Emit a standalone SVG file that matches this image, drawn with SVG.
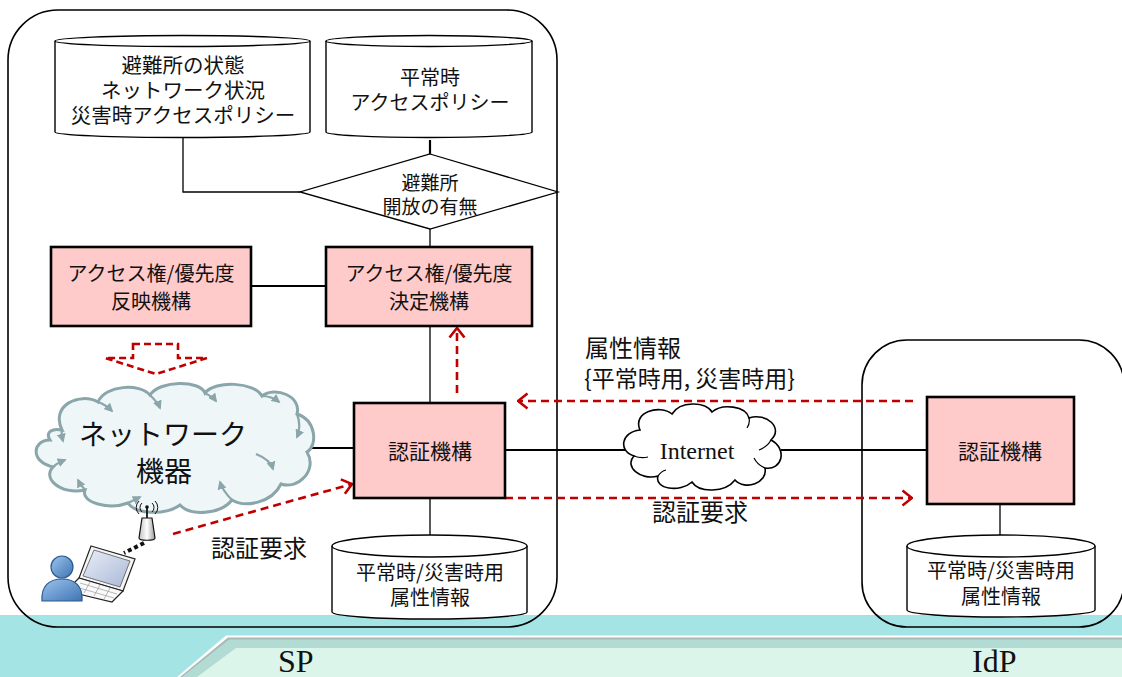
<svg xmlns="http://www.w3.org/2000/svg" width="1122" height="677" viewBox="0 0 1122 677">
  <style>
    .jp { font-family: "Noto Sans CJK JP", "Noto Sans", sans-serif; fill: #111; text-anchor: middle; }
    .serif { font-family: "Liberation Serif", "Times New Roman", serif; fill: #111; }
    .panel { fill: none; stroke: #000; stroke-width: 1.6; }
    .cyl { fill: #fff; stroke: #000; stroke-width: 1.4; }
    .box { fill: #ffcaca; stroke: #000; stroke-width: 2.6; }
    .line { fill: none; stroke: #000; stroke-width: 1.3; }
    .line2 { fill: none; stroke: #000; stroke-width: 2.2; }
    .red { fill: none; stroke: #c00000; stroke-width: 2.6; stroke-dasharray: 8 5; }
    .ripple { fill: none; stroke: #8aa6aa; stroke-width: 2.2; }
  </style>
  <defs>
    <marker id="redHead" viewBox="0 0 12 18" refX="11" refY="9" markerWidth="12" markerHeight="18" markerUnits="userSpaceOnUse" orient="auto">
      <path d="M1.5,1.5 L11,9 L1.5,16.5" fill="none" stroke="#c00000" stroke-width="2.6" stroke-dasharray="none"/>
    </marker>
    <marker id="rippleHead" viewBox="0 0 10 10" refX="8" refY="5" markerWidth="9" markerHeight="9" markerUnits="userSpaceOnUse" orient="auto">
      <path d="M0,0 L10,5 L0,10 Z" fill="#8aa6aa"/>
    </marker>
    <linearGradient id="userGrad" x1="0" y1="0" x2="1" y2="1">
      <stop offset="0" stop-color="#9cc3ee"/>
      <stop offset="1" stop-color="#3f74b3"/>
    </linearGradient>
    <linearGradient id="screenGrad" x1="0" y1="0" x2="1" y2="1">
      <stop offset="0" stop-color="#e9eef8"/>
      <stop offset="1" stop-color="#aab8d6"/>
    </linearGradient>
    <linearGradient id="antGrad" x1="0" y1="0" x2="1" y2="0">
      <stop offset="0" stop-color="#bfbfbf"/>
      <stop offset="0.5" stop-color="#ffffff"/>
      <stop offset="1" stop-color="#9a9a9a"/>
    </linearGradient>
  </defs>

  <!-- footer band -->
  <g id="footer">
    <rect x="0" y="615" width="1122" height="62" fill="#a4e4e4"/>
    <polygon points="177,677 226,635.5 1122,635.5 1122,677" fill="#ffffff"/>
    <polygon points="180,677 228,637.5 1122,637.5 1122,677" fill="#a9b9b6"/>
    <polygon points="182,677 229,639.5 1122,639.5 1122,677" fill="#b2dcd3"/>
    <polygon points="197,677 236,648 1122,648 1122,677" fill="#dcf5ea"/>
    <text class="serif" x="278" y="672" font-size="32">SP</text>
    <text class="serif" x="972" y="672" font-size="32">IdP</text>
  </g>

  <!-- domain panels -->
  <g id="sp-panel">
    <rect class="panel" x="8" y="10" width="549" height="617" rx="50" ry="50"/>
  </g>
  <g id="idp-panel">
    <rect class="panel" x="862" y="340" width="262" height="287" rx="45" ry="45"/>
  </g>

  <!-- connectors -->
  <g id="connectors">
    <polyline class="line" points="183,137 183,192 300,192"/>
    <line class="line2" x1="430" y1="140" x2="430" y2="154"/>
    <line class="line" x1="430" y1="229" x2="430" y2="247"/>
    <line class="line2" x1="251" y1="286" x2="326" y2="286"/>
    <line class="line" x1="430" y1="326" x2="430" y2="403"/>
    <line class="line" x1="430" y1="498" x2="430" y2="535"/>
    <line class="line2" x1="310" y1="448" x2="354" y2="448"/>
    <line class="line2" x1="505" y1="450" x2="625" y2="450"/>
    <line class="line2" x1="781" y1="450" x2="927" y2="450"/>
    <line class="line" x1="1000" y1="504" x2="1000" y2="535"/>

    <!-- attribute flow IdP -> SP -->
    <line class="red" x1="913" y1="401" x2="518" y2="401" marker-end="url(#redHead)"/>
    <!-- authentication request SP -> IdP -->
    <line class="red" x1="505" y1="498" x2="912" y2="498" marker-end="url(#redHead)"/>
    <!-- authentication result -> decision -->
    <line class="red" x1="457" y1="393" x2="457" y2="328" marker-end="url(#redHead)"/>
    <!-- user request -> SP authentication -->
    <line class="red" x1="173" y1="534" x2="352" y2="484" marker-end="url(#redHead)"/>
    <!-- policy reflection onto network devices -->
    <polygon points="133,344 178,344 178,358 207,358 156,374 105,358 133,358" fill="none" stroke="#c00000" stroke-width="2.6" stroke-dasharray="7 4"/>
  </g>

  <!-- labels on flows -->
  <g id="flow-labels">
    <text class="jp" x="585" y="357" font-size="24" style="text-anchor:start">属性情報</text>
    <text class="jp" x="584" y="387" font-size="23" style="text-anchor:start">{平常時用, 災害時用}</text>
    <text class="jp" x="700" y="521" font-size="24">認証要求</text>
    <text class="jp" x="259" y="557" font-size="24">認証要求</text>
  </g>

  <!-- data store: shelter state -->
  <g id="db-shelter">
    <path class="cyl" d="M55,41 L55,132 A127.5,5.5 0 0 0 310,132 L310,41 A127.5,5.5 0 0 0 55,41 Z"/>
    <path class="cyl" d="M55,41 A127.5,5.5 0 0 0 310,41"/>
    <text class="jp" x="183" y="73" font-size="20.5">避難所の状態</text>
    <text class="jp" x="183" y="98" font-size="20.5">ネットワーク状況</text>
    <text class="jp" x="183" y="123" font-size="20.5">災害時アクセスポリシー</text>
  </g>

  <!-- data store: normal policy -->
  <g id="db-normal">
    <path class="cyl" d="M326,41 L326,132 A103,5.5 0 0 0 532,132 L532,41 A103,5.5 0 0 0 326,41 Z"/>
    <path class="cyl" d="M326,41 A103,5.5 0 0 0 532,41"/>
    <text class="jp" x="430" y="85" font-size="20">平常時</text>
    <text class="jp" x="430" y="110" font-size="20">アクセスポリシー</text>
  </g>

  <!-- decision -->
  <g id="decision">
    <polygon points="430,154 558,192 430,229 300,192" fill="#fff" stroke="#000" stroke-width="1.3"/>
    <text class="jp" x="430" y="190" font-size="19">避難所</text>
    <text class="jp" x="430" y="214" font-size="19">開放の有無</text>
  </g>

  <!-- access right reflection -->
  <g id="reflect">
    <rect class="box" x="51" y="247" width="200" height="79"/>
    <text class="jp" x="151" y="281" font-size="20">アクセス権/優先度</text>
    <text class="jp" x="151" y="309" font-size="20">反映機構</text>
  </g>

  <!-- access right decision -->
  <g id="decide">
    <rect class="box" x="326" y="247" width="206" height="79"/>
    <text class="jp" x="429" y="281" font-size="20">アクセス権/優先度</text>
    <text class="jp" x="429" y="309" font-size="20">決定機構</text>
  </g>

  <!-- network devices cloud -->
  <g id="network">
    <path d="M62,430 C50,405 80,392 98,402 C105,385 140,383 150,395 C160,380 200,380 205,393 C215,380 255,382 262,396 C275,386 302,396 297,414 C316,420 318,445 307,452 C318,470 298,490 281,484 C272,503 245,508 232,500 C220,515 190,516 180,505 C165,516 135,514 128,503 C110,510 80,503 85,490 C60,495 42,478 53,467 C30,462 32,440 50,440 C45,432 52,428 62,430 Z" fill="#eef6f8" stroke="#8aa6aa" stroke-width="3"/>
    <path class="ripple" d="M98,402 C104,404 108,407 112,411" marker-end="url(#rippleHead)"/>
    <path class="ripple" d="M150,395 C154,399 158,403 160,408" marker-end="url(#rippleHead)"/>
    <path class="ripple" d="M205,393 C208,395 213,397 216,401" marker-end="url(#rippleHead)"/>
    <path class="ripple" d="M262,396 C268,396 274,398 279,402" marker-end="url(#rippleHead)"/>
    <path class="ripple" d="M297,414 C300,422 300,430 297,437" marker-end="url(#rippleHead)"/>
    <path class="ripple" d="M256,454 C266,458 271,462 273,469" marker-end="url(#rippleHead)"/>
    <path class="ripple" d="M232,500 C226,494 222,489 220,482" marker-end="url(#rippleHead)"/>
    <path class="ripple" d="M128,503 C132,501 136,499 140,497" marker-end="url(#rippleHead)"/>
    <path class="ripple" d="M85,490 C82,486 80,484 78,480" marker-end="url(#rippleHead)"/>
    <path class="ripple" d="M53,467 C56,464 60,462 65,460" marker-end="url(#rippleHead)"/>
    <path class="ripple" d="M62,430 C61,434 62,437 63,441" marker-end="url(#rippleHead)"/>
    <text class="jp" x="163" y="445" font-size="28">ネットワーク</text>
    <text class="jp" x="164" y="482" font-size="28">機器</text>
  </g>

  <!-- user with laptop and access point -->
  <g id="user">
    <!-- access point -->
    <line x1="147" y1="506" x2="147" y2="518" stroke="#111" stroke-width="1.8"/>
    <circle cx="147" cy="507" r="1.8" fill="#111"/>
    <path d="M142,503 A6,6 0 0 0 142,512 M139,501 A9,9 0 0 0 139,514 M152,503 A6,6 0 0 1 152,512 M155,501 A9,9 0 0 1 155,514" fill="none" stroke="#111" stroke-width="1"/>
    <path d="M142,518 L152,518 L155,538 C155,541 139,541 139,538 Z" fill="url(#antGrad)" stroke="#111" stroke-width="1.2"/>
    <!-- wireless link -->
    <line x1="144" y1="543" x2="124" y2="553" stroke="#111" stroke-width="4" stroke-dasharray="4 3"/>
    <!-- laptop -->
    <polygon points="91,546 135,559 123,591 79,578" fill="#f5f5f5" stroke="#222" stroke-width="1.2"/>
    <polygon points="94,550 130,561 120,587 83,576" fill="url(#screenGrad)" stroke="#555" stroke-width="0.8"/>
    <polygon points="79,578 123,591 112,602 66,591" fill="#fafafa" stroke="#222" stroke-width="1.2"/>
    <path d="M80,583 L117,594 M76,587 L114,598 M90,582 L84,593 M100,585 L94,596 M110,588 L104,599" stroke="#999" stroke-width="0.7"/>
    <!-- person -->
    <path d="M42,601 C41,586 49,579 62,579 C75,579 83,586 82,601 Z" fill="url(#userGrad)" stroke="#2b5a8e" stroke-width="1.2"/>
    <circle cx="62" cy="567" r="11" fill="url(#userGrad)" stroke="#2b5a8e" stroke-width="1.2"/>
  </g>

  <!-- SP authentication -->
  <g id="sp-auth">
    <rect class="box" x="354" y="403" width="151" height="95"/>
    <text class="jp" x="430" y="459" font-size="21">認証機構</text>
  </g>

  <!-- SP attribute store -->
  <g id="sp-attr">
    <path class="cyl" d="M332,546 L332,612 A97.5,7 0 0 0 527,612 L527,546 A97.5,11 0 0 0 332,546 Z"/>
    <path class="cyl" d="M332,546 A97.5,11 0 0 0 527,546"/>
    <text class="jp" x="430" y="580" font-size="20">平常時/災害時用</text>
    <text class="jp" x="430" y="605" font-size="20">属性情報</text>
  </g>

  <!-- Internet -->
  <g id="internet">
    <path d="M640,430 C632,412 660,404 672,414 C680,401 705,401 712,412 C722,403 746,406 749,418 C766,412 784,428 771,440 C788,449 782,471 765,468 C768,483 745,491 735,480 C725,493 699,493 692,482 C680,493 654,489 658,476 C640,481 624,466 634,456 C618,451 621,432 640,430 Z" fill="#fff" stroke="#000" stroke-width="1.6"/>
    <path d="M749,418 C750,422 749,425 747,428 M771,440 C768,446 764,448 759,450 M765,468 C760,466 756,462 754,458 M658,476 C660,473 662,471 666,470 M634,456 C639,458 644,458 648,457" fill="none" stroke="#000" stroke-width="1.2"/>
    <text class="serif" x="697" y="459" font-size="24" text-anchor="middle">Internet</text>
  </g>

  <!-- IdP authentication -->
  <g id="idp-auth">
    <rect class="box" x="927" y="397" width="147" height="107"/>
    <text class="jp" x="1000" y="459" font-size="21">認証機構</text>
  </g>

  <!-- IdP attribute store -->
  <g id="idp-attr">
    <path class="cyl" d="M907,546 L907,610 A94,7 0 0 0 1095,610 L1095,546 A94,11 0 0 0 907,546 Z"/>
    <path class="cyl" d="M907,546 A94,11 0 0 0 1095,546"/>
    <text class="jp" x="1001" y="578" font-size="20">平常時/災害時用</text>
    <text class="jp" x="1001" y="604" font-size="20">属性情報</text>
  </g>
</svg>
